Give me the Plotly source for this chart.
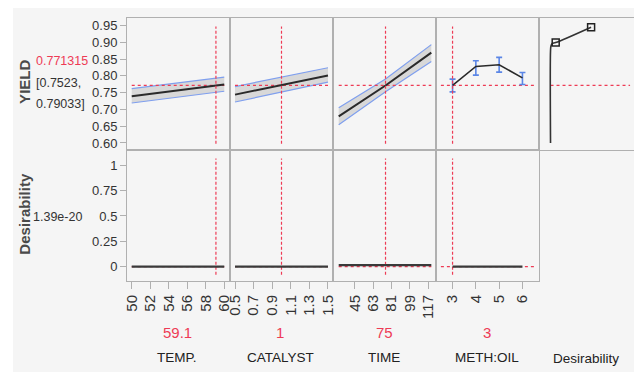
import plotly.graph_objects as go
from plotly.subplots import make_subplots

# The page body has an 8px margin, so the figure is drawn 8px in from the corner.
OFF = 8
W, H = 642 - OFF, 372 - OFF
L = 127 - OFF
T = 17.5 - OFF
B = H - (281 - OFF)
PW, PH = W - L, H - T - B

# ---------------- data ----------------
factors = ["TEMP.", "CATALYST", "TIME", "METH:OIL"]
current = [59.1, 1, 75, 3]
current_labels = ["59.1", "1", "75", "3"]
pred_value = 0.771315
pred_label = "0.771315"
ci_text = ["[0.7523,", "0.79033]"]
desir_label = "1.39e-20"
desir_value = 0.0

temp_x = [50, 60]
temp_y = [0.739, 0.774]
temp_hi = [0.762, 0.796]
temp_lo = [0.719, 0.754]

cat_x = [0.5, 1.5]
cat_y = [0.744, 0.801]
cat_hi = [0.768, 0.824]
cat_lo = [0.722, 0.781]

time_x = [29, 75, 120]
time_y = [0.679, 0.7713, 0.869]
time_hi = [0.705, 0.7903, 0.893]
time_lo = [0.654, 0.7523, 0.843]

meth_x = [3, 4, 5, 6]
meth_y = [0.7713, 0.828, 0.833, 0.794]
meth_hi = [0.7903, 0.845, 0.855, 0.810]
meth_lo = [0.7523, 0.802, 0.811, 0.774]

desfn_x = [0.06, 0.06, 0.065, 0.08, 0.125, 0.57]
desfn_y = [0.60, 0.875, 0.888, 0.896, 0.899, 0.945]
desfn_sq_x = [0.125, 0.57]
desfn_sq_y = [0.899, 0.945]

d_temp = [0, 0]
d_cat = [0, 0]
d_time = [0.015, 0.015]
d_meth = [0, 0, 0, 0]

yield_ticks = [0.60, 0.65, 0.70, 0.75, 0.80, 0.85, 0.90, 0.95]
desir_ticks = [0, 0.25, 0.5, 0.75, 1]
desir_tick_text = ["0", "0.25", "0.5", "0.75", "1"]
temp_ticks = [50, 52, 54, 56, 58, 60]
cat_ticks = [0.5, 0.7, 0.9, 1.1, 1.3, 1.5]
time_ticks = [45, 63, 81, 99, 117]
meth_ticks = [3, 4, 5, 6]

# ---------------- styles ----------------
FONT = "Liberation Sans, Arial, sans-serif"
RED = "#ee3b55"
BLUE = "#7f9fee"
GRAY_FILL = "#d8d8d8"
LINE = "#2a2a2a"
BORDER = "#b0b0b0"
TXT = "#333333"

fig = make_subplots(rows=2, cols=5, horizontal_spacing=0, vertical_spacing=0,
                    shared_xaxes=True, shared_yaxes=True)


def band(x, lo, hi, col):
    fig.add_trace(go.Scatter(x=x, y=lo, mode="lines", line=dict(color=BLUE, width=1.2),
                             showlegend=False, hoverinfo="skip"), row=1, col=col)
    fig.add_trace(go.Scatter(x=x, y=hi, mode="lines", line=dict(color=BLUE, width=1.2),
                             fill="tonexty", fillcolor=GRAY_FILL,
                             showlegend=False, hoverinfo="skip"), row=1, col=col)


def hline(x0, x1, y, row, col):
    fig.add_trace(go.Scatter(x=[x0, x1], y=[y, y], mode="lines",
                             line=dict(color=RED, width=1.3, dash="dot"),
                             showlegend=False, hoverinfo="skip"), row=row, col=col)


def vline(x, y0, y1, row, col):
    fig.add_trace(go.Scatter(x=[x, x], y=[y0, y1], mode="lines",
                             line=dict(color=RED, width=1.2, dash="3px,2px"),
                             showlegend=False, hoverinfo="skip"), row=row, col=col)


# row 1: prediction profiles
band(temp_x, temp_lo, temp_hi, 1)
band(cat_x, cat_lo, cat_hi, 2)
band(time_x, time_lo, time_hi, 3)

hline(temp_x[0], temp_x[-1], pred_value, 1, 1)
hline(cat_x[0], cat_x[-1], pred_value, 1, 2)
hline(time_x[0], time_x[-1], pred_value, 1, 3)
hline(2.5, 6.5, pred_value, 1, 4)
hline(0.06, 1.06, pred_value, 1, 5)

for c, (xx, yy) in enumerate([(temp_x, temp_y), (cat_x, cat_y), (time_x, time_y)], start=1):
    fig.add_trace(go.Scatter(x=xx, y=yy, mode="lines", line=dict(color=LINE, width=2),
                             showlegend=False, hoverinfo="skip"), row=1, col=c)

fig.add_trace(go.Scatter(
    x=meth_x, y=meth_y, mode="lines", line=dict(color=LINE, width=1.6),
    error_y=dict(type="data", symmetric=False,
                 array=[h - m for h, m in zip(meth_hi, meth_y)],
                 arrayminus=[m - l for m, l in zip(meth_y, meth_lo)],
                 color="#5b86e6", thickness=1.6, width=3),
    showlegend=False, hoverinfo="skip"), row=1, col=4)

fig.add_trace(go.Scatter(x=desfn_x, y=desfn_y, mode="lines",
                         line=dict(color="#333333", width=1.6, shape="spline"),
                         showlegend=False, hoverinfo="skip"), row=1, col=5)
fig.add_trace(go.Scatter(x=desfn_sq_x, y=desfn_sq_y, mode="markers",
                         marker=dict(symbol="square-open", size=7, color="#222222", line=dict(width=1.5)),
                         showlegend=False, hoverinfo="skip"), row=1, col=5)

for c, xv in enumerate(current, start=1):
    vline(xv, 0.598, 0.947, 1, c)
    vline(xv, -0.08, 1.066, 2, c)

# row 2: desirability
hline(temp_x[0], temp_x[-1], desir_value, 2, 1)
hline(cat_x[0], cat_x[-1], desir_value, 2, 2)
hline(time_x[0], time_x[-1], desir_value, 2, 3)
hline(2.5, 6.5, desir_value, 2, 4)
for c, (xx, yy) in enumerate([(temp_x, d_temp), (cat_x, d_cat), ([time_x[0], time_x[-1]], d_time),
                              (meth_x, d_meth)], start=1):
    fig.add_trace(go.Scatter(x=xx, y=yy, mode="lines", line=dict(color="#3a3a3a", width=2.2),
                             showlegend=False, hoverinfo="skip"), row=2, col=c)

# ---------------- axes ----------------
x_ranges = [[49.49, 60.62], [0.446, 1.554], [23.4, 124.6], [2.29, 6.71], [-0.085, 1.21]]
x_ticks = [temp_ticks, cat_ticks, time_ticks, meth_ticks, desir_ticks]
x_text = [[str(v) for v in temp_ticks], [str(v) for v in cat_ticks], [str(v) for v in time_ticks],
          [str(v) for v in meth_ticks], desir_tick_text]

for c in range(1, 6):
    for r in (1, 2):
        fig.update_xaxes(range=x_ranges[c - 1], showgrid=False, zeroline=False,
                         showline=True, mirror=True, linecolor=BORDER, linewidth=1,
                         row=r, col=c)
    fig.update_xaxes(ticks="", showticklabels=False, row=1, col=c)
    fig.update_xaxes(ticks="outside", ticklen=7, tickcolor=BORDER, tickwidth=1,
                     tickmode="array", tickvals=x_ticks[c - 1], ticktext=x_text[c - 1],
                     tickangle=-90, showticklabels=True,
                     tickfont=dict(family=FONT, size=15, color=TXT), row=2, col=c)
    for r in (1, 2):
        fig.update_yaxes(showgrid=False, zeroline=False, showline=True, mirror=True,
                         linecolor=BORDER, linewidth=1, row=r, col=c)
        fig.update_yaxes(range=[0.5805, 0.9723] if r == 1 else [-0.141, 1.155], row=r, col=c)
        if c > 1:
            fig.update_yaxes(ticks="", showticklabels=False, row=r, col=c)

fig.update_yaxes(ticks="outside", ticklen=6, tickcolor=BORDER, tickmode="array",
                 tickvals=yield_ticks, ticktext=[f"{v:.2f}" for v in yield_ticks],
                 tickfont=dict(family=FONT, size=13, color=TXT), row=1, col=1)
fig.update_yaxes(ticks="outside", ticklen=6, tickcolor=BORDER, tickmode="array",
                 tickvals=desir_ticks, ticktext=desir_tick_text,
                 tickfont=dict(family=FONT, size=13, color=TXT), row=2, col=1)


# ---------------- annotations ----------------
def px(x):
    return (x - OFF - L) / PW


def py(y):
    return (H - B - (y - OFF)) / PH


def note(text, x, y, size=13, color=TXT, xanchor="center", angle=0, bold=False):
    fig.add_annotation(text=f"<b>{text}</b>" if bold else text, x=px(x), y=py(y),
                       xref="paper", yref="paper", showarrow=False,
                       xanchor=xanchor, yanchor="middle", textangle=angle,
                       font=dict(family=FONT, size=size, color=color))


note("YIELD", 24.5, 82, size=15, color="#4a4a4a", angle=-90, bold=True)
note("Desirability", 24.5, 214, size=15, color="#4a4a4a", angle=-90, bold=True)
note(pred_label, 34, 61, size=12.5, color=RED, xanchor="left")
note(ci_text[0], 34, 83, size=12.5, xanchor="left")
note(ci_text[1], 34, 104, size=12.5, xanchor="left")
note(desir_label, 31, 217, size=12.5, xanchor="left")

col_centers = [177, 280, 384, 487]
for cx, lab, name in zip(col_centers, current_labels, factors):
    note(lab, cx, 333, size=15, color=RED)
    note(name, cx, 358, size=13.5, color="#222222")
note("Desirability", 586, 359, size=13.5, color="#222222")

fig.update_layout(
    width=W, height=H,
    margin=dict(l=L, r=0, t=T, b=B, autoexpand=False),
    paper_bgcolor="white", plot_bgcolor="white",
    showlegend=False,
    shapes=[dict(type="rect", xref="paper", yref="paper",
                 x0=px(13), x1=px(660), y0=py(380), y1=py(7),
                 fillcolor="#f5f5f5", line=dict(width=0), layer="below")],
)

fig.write_html("out.html")
